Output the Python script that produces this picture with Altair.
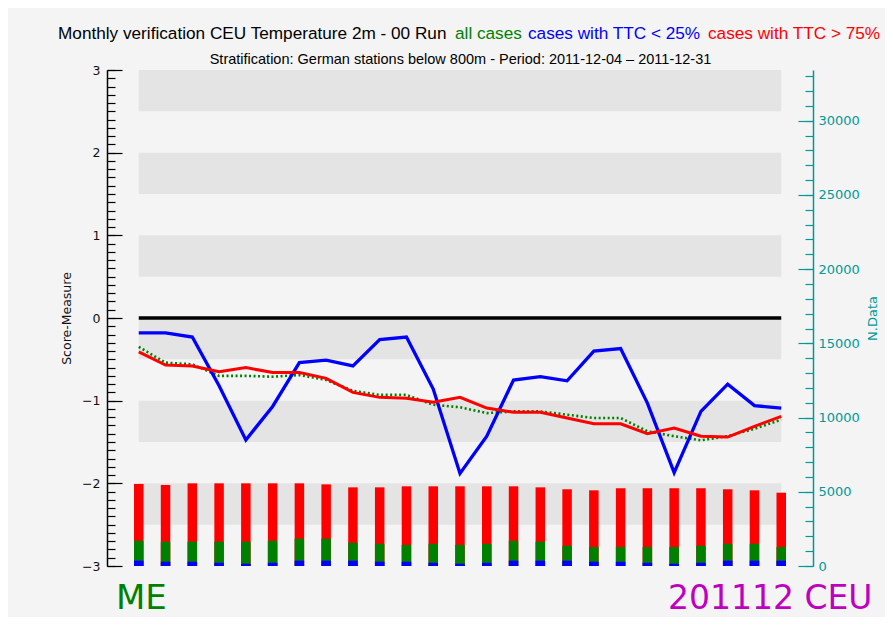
import altair as alt
import pandas as pd

# ---------------- data ----------------
steps = list(range(0, 73, 3))

me_all = [-0.35, -0.54, -0.56, -0.70, -0.70, -0.71, -0.69, -0.75, -0.88, -0.93, -0.93, -1.05, -1.08,
          -1.15, -1.13, -1.13, -1.17, -1.21, -1.21, -1.37, -1.43, -1.48, -1.43, -1.34, -1.23]
me_ttc_lt25 = [-0.18, -0.18, -0.23, -0.82, -1.475, -1.07, -0.54, -0.51, -0.58, -0.26, -0.23, -0.86, -1.88,
               -1.43, -0.75, -0.71, -0.76, -0.40, -0.37, -1.03, -1.87, -1.13, -0.80, -1.06, -1.09]
me_ttc_gt75 = [-0.41, -0.57, -0.58, -0.65, -0.60, -0.66, -0.66, -0.73, -0.90, -0.96, -0.97, -1.02, -0.96,
               -1.09, -1.14, -1.14, -1.21, -1.28, -1.28, -1.40, -1.33, -1.43, -1.44, -1.31, -1.19]

n_red = [5530, 5460, 5570, 5570, 5570, 5570, 5570, 5500, 5300, 5300, 5370, 5370, 5370,
         5370, 5370, 5300, 5170, 5100, 5240, 5240, 5240, 5240, 5170, 5100, 4940]
n_green = [1700, 1640, 1640, 1640, 1640, 1700, 1840, 1840, 1570, 1500, 1420, 1500, 1420,
           1500, 1700, 1640, 1370, 1280, 1280, 1280, 1280, 1370, 1500, 1500, 1280]
n_blue = [360, 290, 290, 220, 155, 220, 360, 360, 360, 290, 290, 220, 155,
          220, 360, 360, 360, 290, 290, 220, 155, 220, 360, 360, 360]

band_lo = [2.5, 1.5, 0.5, -0.5, -1.5, -2.5]
band_hi = [3.0, 2.0, 1.0, 0.0, -1.0, -2.0]

score_major = [-3, -2, -1, 0, 1, 2, 3]
score_minor = [round(-3 + 0.1 * i, 1) for i in range(61)]
ndata_major = [0, 5000, 10000, 15000, 20000, 25000, 30000]
ndata_minor = list(range(0, 34000, 1000))
x_labels = steps

TEAL = "#009999"
GREEN = "#008000"
BLUE = "#0000ff"
RED = "#ff0000"

lines_df = pd.DataFrame({"step": steps, "all": me_all, "lt25": me_ttc_lt25, "gt75": me_ttc_gt75})
bars_df = pd.DataFrame({"step": steps, "red": n_red, "green": n_green, "blue": n_blue})
bands_df = pd.DataFrame({"lo": band_lo, "hi": band_hi, "x0": [steps[0]] * len(band_lo),
                         "x1": [steps[-1]] * len(band_lo)})
zero_df = pd.DataFrame({"x0": [steps[0]], "x1": [steps[-1]], "y": [0]})

xscale = alt.Scale(domain=[-3, 75], nice=False, zero=False)
xaxis = alt.Axis(values=x_labels, ticks=False, grid=False, domainColor="black", domainWidth=1.5,
                 labelColor="#111", labelFontSize=12, labelPadding=7, labelFont="Liberation Sans",
                 title="Step", titleFontWeight="normal", titleFontSize=12, titleFont="DejaVu Sans",
                 titleX=352, titleY=31, titleBaseline="middle", titleAlign="center")

yscale = alt.Scale(domain=[-3, 3], nice=False, zero=False)
yaxis_main = alt.Axis(orient="left", values=score_major, ticks=False, grid=False, domainColor="black",
                      domainWidth=1.5, labelColor="#111", labelFontSize=12.5, labelPadding=7,
                      labelFont="DejaVu Sans", format="d",
                      title="Score-Measure", titleFontWeight="normal", titleFontSize=12.5,
                      titleFont="DejaVu Sans", titleAngle=270, titleX=-41, titleY=248,
                      titleBaseline="middle", titleAlign="center", titleColor="#111")

nmax = 6 * max(n_red)
nscale = alt.Scale(domain=[0, nmax], nice=False, zero=True)
naxis_main = alt.Axis(orient="right", values=ndata_major, ticks=False, grid=False, domainColor=TEAL,
                      domainWidth=1.5, labelColor=TEAL, labelFontSize=13, labelPadding=5,
                      labelFont="DejaVu Sans", format="d",
                      title="N.Data", titleColor=TEAL, titleFontWeight="normal", titleFontSize=13,
                      titleFont="DejaVu Sans", titleAngle=270, titleX=59, titleY=248,
                      titleBaseline="middle", titleAlign="center")


def tick_axis(orient, values, size, color):
    return alt.Axis(orient=orient, values=values, offset=-size, tickSize=size, tickColor=color,
                    tickWidth=1.2, labels=False, domain=False, grid=False, title=None)


# ---------------- score layer (left axis) ----------------
bands = alt.Chart(bands_df).mark_rect(color="#e4e4e4").encode(
    x=alt.X("x0:Q", scale=xscale, axis=xaxis), x2="x1:Q",
    y=alt.Y("lo:Q", scale=yscale, axis=yaxis_main), y2="hi:Q")

base_lines = alt.Chart(lines_df)
line_all = base_lines.mark_line(color=GREEN, strokeWidth=2.6, strokeDash=[2, 2.5]).encode(
    x=alt.X("step:Q", scale=xscale, axis=None),
    y=alt.Y("all:Q", scale=yscale, axis=yaxis_main))
line_lt25 = base_lines.mark_line(color=BLUE, strokeWidth=3.3).encode(
    x=alt.X("step:Q", scale=xscale, axis=None),
    y=alt.Y("lt25:Q", scale=yscale, axis=yaxis_main))
line_gt75 = base_lines.mark_line(color=RED, strokeWidth=3.0).encode(
    x=alt.X("step:Q", scale=xscale, axis=None),
    y=alt.Y("gt75:Q", scale=yscale, axis=yaxis_main))
zero = alt.Chart(zero_df).mark_rule(color="black", strokeWidth=3.3).encode(
    x=alt.X("x0:Q", scale=xscale, axis=None), x2="x1:Q",
    y=alt.Y("y:Q", scale=yscale, axis=yaxis_main))

score_layer = alt.layer(bands, zero, line_all, line_lt25, line_gt75)

score_minor_layer = base_lines.mark_point(opacity=0).encode(
    x=alt.X("step:Q", scale=xscale, axis=None),
    y=alt.Y("all:Q", scale=yscale, axis=tick_axis("left", score_minor, 8, "black")))
score_major_layer = base_lines.mark_point(opacity=0).encode(
    x=alt.X("step:Q", scale=xscale, axis=None),
    y=alt.Y("all:Q", scale=yscale, axis=tick_axis("left", score_major, 15, "black")))

# ---------------- N.Data layer (right axis) ----------------
base_bars = alt.Chart(bars_df)
bar_red = base_bars.mark_bar(color=RED, size=9.5).encode(
    x=alt.X("step:Q", scale=xscale, axis=None),
    y=alt.Y("red:Q", scale=nscale, axis=naxis_main, stack=None))
bar_green = base_bars.mark_bar(color=GREEN, size=9.5).encode(
    x=alt.X("step:Q", scale=xscale, axis=None),
    y=alt.Y("green:Q", scale=nscale, axis=naxis_main, stack=None))
bar_blue = base_bars.mark_bar(color=BLUE, size=9.5).encode(
    x=alt.X("step:Q", scale=xscale, axis=None),
    y=alt.Y("blue:Q", scale=nscale, axis=naxis_main, stack=None))
bars_layer = alt.layer(bar_red, bar_green, bar_blue)

n_minor_layer = base_bars.mark_point(opacity=0).encode(
    x=alt.X("step:Q", scale=xscale, axis=None),
    y=alt.Y("red:Q", scale=nscale, axis=tick_axis("right", ndata_minor, 8, TEAL)))
n_major_layer = base_bars.mark_point(opacity=0).encode(
    x=alt.X("step:Q", scale=xscale, axis=None),
    y=alt.Y("red:Q", scale=nscale, axis=tick_axis("right", ndata_major, 15, TEAL)))

# ---------------- texts ----------------
title_main = "Monthly verification CEU Temperature 2m - 00 Run"
title_all = "all cases"
title_lt25 = "cases with TTC < 25%"
title_gt75 = "cases with TTC > 75%"
subtitle = "Stratification: German stations below 800m - Period: 2011-12-04 \u2013 2011-12-31"
score_name = "ME"
period_label = "201112 CEU"

txt_df = pd.DataFrame({"t": [title_main, title_all, title_lt25, title_gt75, subtitle,
                             score_name, period_label]})


def text_mark(i, color, x, y, size, align="left", font="Liberation Sans"):
    return alt.Chart(txt_df).transform_filter(
        alt.datum.t == txt_df["t"][i]).mark_text(
        align=align, baseline="alphabetic", color=color, fontSize=size, font=font).encode(
        text="t:N", x=alt.value(x), y=alt.value(y))


texts = [
    text_mark(0, "black", -49, -31.5, 17.2),
    text_mark(1, GREEN, 348, -31.5, 17.2),
    text_mark(2, BLUE, 421, -31.5, 17.2),
    text_mark(3, RED, 601, -31.5, 17.2),
    text_mark(4, "black", 353.5, -6.5, 14.5, align="center"),
    text_mark(5, GREEN, 9, 539, 34, font="DejaVu Sans"),
    text_mark(6, "#c000c0", 561, 539, 33, font="DejaVu Sans"),
]

chart = alt.layer(
    score_layer, score_minor_layer, score_major_layer,
    bars_layer, n_minor_layer, n_major_layer, *texts
).resolve_scale(y="independent").properties(
    width=706, height=496,
    autosize=alt.AutoSizeParams(type="none"),
    padding={"left": 99, "top": 62, "right": 72, "bottom": 51},
    background="#f4f4f4",
).configure_view(stroke=None)

chart.save("out.html", embed_options={"renderer": "svg", "actions": False})
